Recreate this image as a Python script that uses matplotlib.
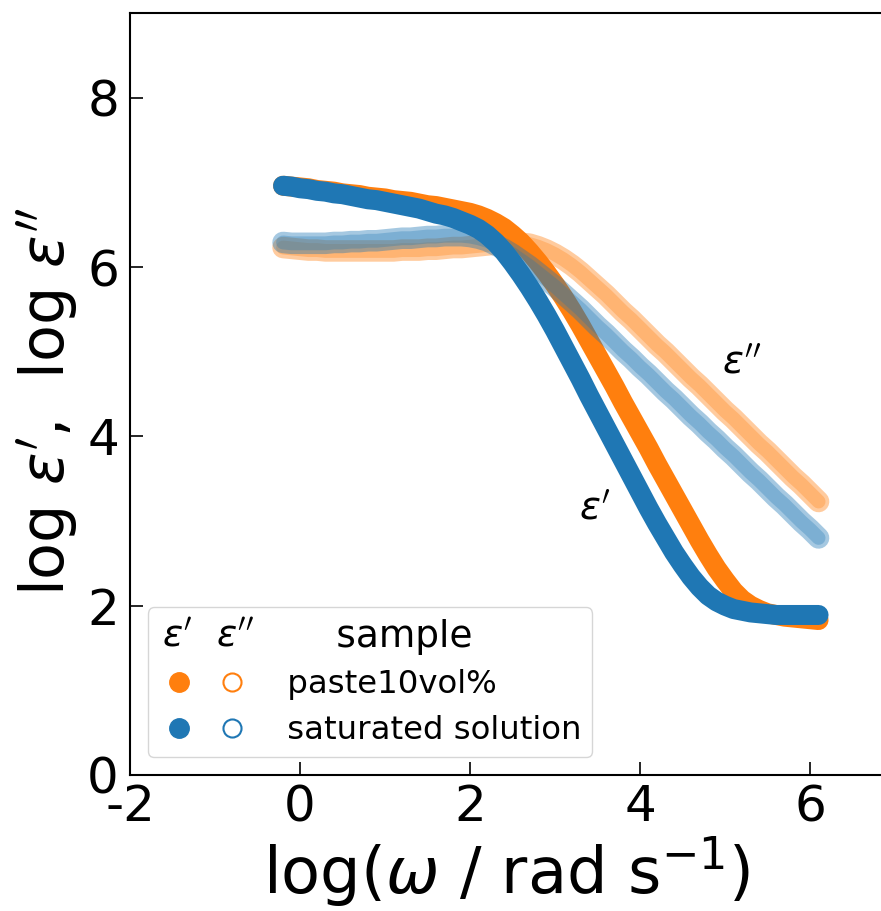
import matplotlib
matplotlib.use("Agg")
import matplotlib.pyplot as plt
from matplotlib.lines import Line2D

plt.rcParams["axes.unicode_minus"] = False
plt.rcParams["font.family"] = ["DejaVu Sans"]

# log angular frequency grid (rad/s)
log_omega = [round(-0.2 + 0.1 * i, 1) for i in range(64)]

# paste10vol%
paste_eps1 = [
    6.96, 6.95, 6.94, 6.93, 6.91, 6.90, 6.89, 6.87, 6.86, 6.85,
    6.83, 6.82, 6.81, 6.79, 6.78, 6.77, 6.75, 6.73, 6.72, 6.70,
    6.68, 6.66, 6.64, 6.61, 6.57, 6.52, 6.46, 6.38, 6.29, 6.18,
    6.06, 5.93, 5.79, 5.64, 5.48, 5.31, 5.13, 4.95, 4.77, 4.59,
    4.40, 4.22, 4.04, 3.86, 3.67, 3.49, 3.31, 3.13, 2.95, 2.77,
    2.60, 2.44, 2.30, 2.17, 2.07, 2.00, 1.95, 1.91, 1.89, 1.87,
    1.86, 1.85, 1.84, 1.83,
]
paste_eps2 = [
    6.23, 6.22, 6.21, 6.20, 6.20, 6.19, 6.19, 6.19, 6.19, 6.19,
    6.19, 6.19, 6.19, 6.19, 6.20, 6.20, 6.20, 6.21, 6.21, 6.22,
    6.23, 6.23, 6.24, 6.25, 6.26, 6.27, 6.28, 6.28, 6.28, 6.27,
    6.24, 6.20, 6.15, 6.09, 6.02, 5.94, 5.85, 5.76, 5.67, 5.57,
    5.47, 5.38, 5.28, 5.18, 5.08, 4.99, 4.89, 4.79, 4.69, 4.60,
    4.50, 4.40, 4.30, 4.21, 4.11, 4.01, 3.91, 3.82, 3.72, 3.62,
    3.52, 3.43, 3.33, 3.23,
]

# saturated solution
sat_eps1 = [
    6.96, 6.95, 6.93, 6.92, 6.90, 6.89, 6.87, 6.86, 6.84, 6.82,
    6.80, 6.79, 6.77, 6.75, 6.73, 6.71, 6.69, 6.66, 6.63, 6.61,
    6.58, 6.54, 6.50, 6.45, 6.38, 6.29, 6.18, 6.05, 5.91, 5.76,
    5.60, 5.43, 5.25, 5.06, 4.87, 4.68, 4.48, 4.29, 4.10, 3.91,
    3.72, 3.53, 3.34, 3.15, 2.97, 2.80, 2.63, 2.48, 2.34, 2.22,
    2.12, 2.05, 2.00, 1.96, 1.94, 1.92, 1.91, 1.90, 1.89, 1.89,
    1.89, 1.89, 1.89, 1.89,
]
sat_eps2 = [
    6.29, 6.28, 6.28, 6.28, 6.28, 6.28, 6.29, 6.29, 6.30, 6.30,
    6.31, 6.31, 6.32, 6.33, 6.34, 6.34, 6.35, 6.36, 6.36, 6.37,
    6.37, 6.37, 6.36, 6.34, 6.31, 6.26, 6.21, 6.15, 6.08, 6.01,
    5.93, 5.85, 5.77, 5.68, 5.59, 5.50, 5.40, 5.30, 5.21, 5.11,
    5.01, 4.92, 4.82, 4.73, 4.63, 4.53, 4.44, 4.34, 4.24, 4.15,
    4.05, 3.96, 3.86, 3.77, 3.67, 3.57, 3.48, 3.38, 3.28, 3.19,
    3.09, 2.99, 2.90, 2.80,
]

samples = ["paste10vol%", "saturated solution"]
colors = ["#ff7f0e", "#1f77b4"]
eps1_series = [paste_eps1, sat_eps1]
eps2_series = [paste_eps2, sat_eps2]

fig = plt.figure(figsize=(8.81, 9.11), dpi=100)
ax = fig.add_axes([0.1476, 0.1493, 0.8539, 0.8364])

for c, e1, e2 in zip(colors, eps1_series, eps2_series):
    ax.plot(log_omega, e1, color=c, lw=14.4, solid_capstyle="round",
            solid_joinstyle="round")
    # loss: translucent band with a soft rim
    ax.plot(log_omega, e2, color=c, lw=15.5, alpha=0.4,
            solid_capstyle="round", solid_joinstyle="round")
    ax.plot(log_omega, e2, color=c, lw=10, alpha=0.3,
            solid_capstyle="round", solid_joinstyle="round")

ax.text(3.47, 3.15, r"$\varepsilon'$", fontsize=28, ha="center", va="center")
ax.text(5.2, 4.87, r"$\varepsilon''$", fontsize=28, ha="center", va="center")

ax.set_xlim(-2, 6.85)
ax.set_ylim(0, 9)
ax.set_xticks([-2, 0, 2, 4, 6])
ax.set_yticks([0, 2, 4, 6, 8])
ax.tick_params(direction="in", length=9.5, width=1.2, labelsize=36,
               top=False, right=False)
ax.tick_params(axis="y", pad=8)
ax.tick_params(axis="x", pad=6)
for s in ax.spines.values():
    s.set_linewidth(1.5)

ax.set_xlabel(r"log($\omega$ / rad s$^{-1}$)", fontsize=46, labelpad=2)
ax.set_ylabel(r"log $\varepsilon'$,  log $\varepsilon''$", fontsize=43.5)
ax.yaxis.set_label_coords(-0.066, 0.49)

blank = Line2D([], [], linestyle="none")
handles = [blank]
labels = [r"$\varepsilon'$"]
for c in colors:
    handles.append(Line2D([], [], linestyle="none", marker="o",
                          markersize=14, color=c))
    labels.append("")
handles.append(blank)
labels.append(r"$\varepsilon''$")
for c in colors:
    handles.append(Line2D([], [], linestyle="none", marker="o",
                          markersize=13, markerfacecolor="none",
                          markeredgecolor=c, markeredgewidth=1.5))
    labels.append("")
handles.append(blank)
labels.append("     sample")
for s in samples:
    handles.append(blank)
    labels.append(" " + s)

leg = ax.legend(handles, labels, ncol=3, loc="lower left", fontsize=23.3,
                handlelength=1.2, handletextpad=-1.1, columnspacing=0.6,
                borderpad=0.35, labelspacing=0.45, borderaxespad=0.55)
texts = leg.get_texts()
for i in (0, 3, 6):
    texts[i].set_fontsize(27)

fig.savefig("out.png", dpi=100)
